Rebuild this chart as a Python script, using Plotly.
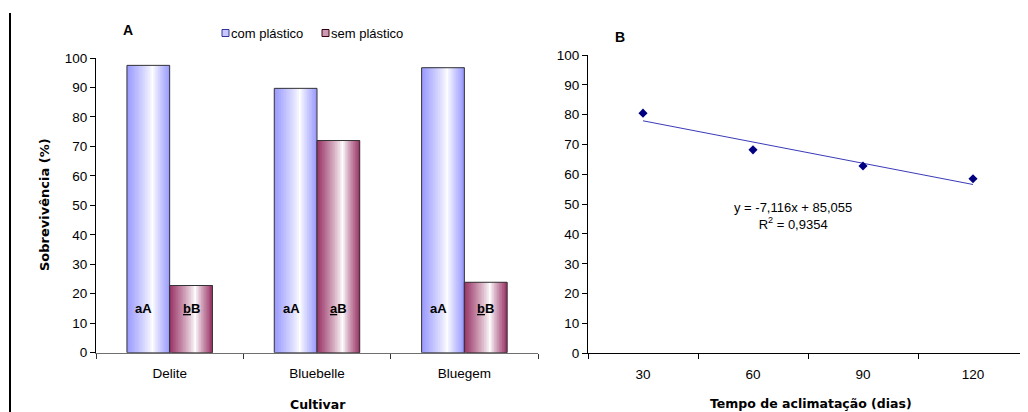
import plotly.graph_objects as go

# ---------------- data ----------------
cultivars = ["Delite", "Bluebelle", "Bluegem"]
com_plastico = [97.5, 89.7, 96.7]
sem_plastico = [22.8, 72.0, 23.9]
series_names = ["com plástico", "sem plástico"]
labels_com = ["aA", "aA", "aA"]
labels_sem = ["<u>b</u>B", "<u>a</u>B", "<u>b</u>B"]
label_height = 15

dias = ["30", "60", "90", "120"]
sobrevivencia_dias = [80.5, 68.2, 62.8, 58.5]
slope, intercept = -7.116, 85.055
equation_text = "y = -7,116x + 85,055<br>R<sup>2</sup> = 0,9354"

# the page body has an 8px default margin, so the figure is drawn 8px in
OFF = 8
W, H = 1028 - OFF, 412 - OFF
FONT = "Liberation Sans, Arial, sans-serif"
BOLD = "DejaVu Sans, Arial, sans-serif"


def px(x):
    return (x - OFF) / W


def py(y):
    return 1 - (y - OFF) / H


def mix(c1, c2, s):
    a = [int(c1[i:i + 2], 16) for i in (1, 3, 5)]
    b = [int(c2[i:i + 2], 16) for i in (1, 3, 5)]
    r = [round(a[j] * s + b[j] * (1 - s)) for j in range(3)]
    return "rgb(%d,%d,%d)" % tuple(r)


fig = go.Figure()

# ---------- Panel A : gradient bars ----------
BAR_W = 0.29
N = 26
series = [
    (com_plastico, "#9999FF", -BAR_W),
    (sem_plastico, "#993366", 0.0),
]
for vals, base, off0 in series:
    for k in range(N):
        t = (k + 0.5) / N
        tp = 0.6
        s = (tp - t) / tp if t < tp else (t - tp) / (1 - tp)
        s = s ** 0.85
        fig.add_trace(go.Bar(
            x=cultivars, y=vals,
            width=[BAR_W - k * BAR_W / N] * len(cultivars),
            offset=off0 + k * BAR_W / N,
            marker=dict(color=mix(base, "#FFFFFF", s), line=dict(width=0)),
            showlegend=False, hoverinfo="skip",
            xaxis="x", yaxis="y",
        ))
    fig.add_trace(go.Bar(
        x=cultivars, y=vals,
        width=[BAR_W] * len(cultivars), offset=off0,
        marker=dict(color="rgba(0,0,0,0)", line=dict(color="#333333", width=1)),
        showlegend=False, xaxis="x", yaxis="y",
    ))

# bar letters
for i, c in enumerate(cultivars):
    fig.add_annotation(x=i - BAR_W / 2 - 0.03, y=label_height, xref="x", yref="y",
                       text="<b>%s</b>" % labels_com[i], showarrow=False,
                       xanchor="center", yanchor="middle",
                       font=dict(family=FONT, size=13, color="#000"))
    fig.add_annotation(x=i + BAR_W / 2, y=label_height, xref="x", yref="y",
                       text="<b>%s</b>" % labels_sem[i], showarrow=False,
                       xanchor="center", yanchor="middle",
                       font=dict(family=FONT, size=13, color="#000"))

# ---------- Panel B ----------
fig.add_trace(go.Scatter(
    x=[dias[0], dias[-1]],
    y=[slope * 1 + intercept, slope * len(dias) + intercept],
    mode="lines", line=dict(color="#3a3ab8", width=1),
    showlegend=False, xaxis="x2", yaxis="y2",
))
fig.add_trace(go.Scatter(
    x=dias, y=sobrevivencia_dias, mode="markers",
    marker=dict(symbol="diamond", size=7, color="#000080"),
    showlegend=False, xaxis="x2", yaxis="y2",
))

tickfont = dict(family=FONT, size=13.5, color="#000")
fig.update_layout(
    width=W, height=H,
    margin=dict(l=0, r=0, t=0, b=0, autoexpand=False),
    paper_bgcolor="white", plot_bgcolor="white",
    barmode="overlay", showlegend=False,
    xaxis=dict(domain=[px(96), px(538)], type="category", range=[-0.5, 2.5],
               categoryorder="array", categoryarray=cultivars,
               showline=True, linecolor="#707070", linewidth=1,
               ticks="outside", tickson="boundaries", ticklen=5, tickcolor="#333",
               tickfont=tickfont, ticklabelstandoff=8, showgrid=False, zeroline=False,
               automargin=False),
    yaxis=dict(domain=[py(352.7), py(58)], range=[0, 100], dtick=10,
               showline=True, linecolor="#000", linewidth=1,
               ticks="outside", ticklen=5, tickcolor="#000",
               tickfont=tickfont, showgrid=False, zeroline=False, automargin=False),
    xaxis2=dict(domain=[px(588), 1.0], type="category", range=[-0.5, 3.5],
                categoryorder="array", categoryarray=dias,
                showline=True, linecolor="#000", linewidth=1,
                ticks="outside", tickson="boundaries", ticklen=5, tickcolor="#000",
                tickfont=tickfont, ticklabelstandoff=8, showgrid=False, zeroline=False,
                anchor="y2", automargin=False),
    yaxis2=dict(domain=[py(353.3), py(55)], range=[0, 100], dtick=10,
                showline=True, linecolor="#000", linewidth=1,
                ticks="outside", ticklen=5, tickcolor="#000",
                tickfont=tickfont, showgrid=False, zeroline=False,
                anchor="x2", automargin=False),
)

# texts
ann = [
    dict(x=px(128), y=py(30), text="<b>A</b>", size=14, fam=FONT),
    dict(x=px(620), y=py(37.5), text="<b>B</b>", size=14, fam=FONT),
    dict(x=px(318), y=py(404), text="<b>Cultivar</b>", size=12.5, fam=BOLD),
    dict(x=px(811), y=py(403), text="<b>Tempo de aclimatação (dias)</b>", size=12.5, fam=BOLD),
]
for a in ann:
    fig.add_annotation(x=a["x"], y=a["y"], xref="paper", yref="paper", text=a["text"],
                       showarrow=False, xanchor="center", yanchor="middle",
                       font=dict(family=a["fam"], size=a["size"], color="#000"))
fig.add_annotation(x=px(44), y=py(205), xref="paper", yref="paper",
                   text="<b>Sobrevivência (%)</b>", textangle=-90, showarrow=False,
                   xanchor="center", yanchor="middle",
                   font=dict(family=BOLD, size=13, color="#000"))
fig.add_annotation(x=px(793), y=py(216), xref="paper", yref="paper",
                   text=equation_text, showarrow=False,
                   xanchor="center", yanchor="middle",
                   font=dict(family=FONT, size=13, color="#000"))

# custom legend
leg = [(series_names[0], "#C8C8FF", "#333399", 222, 229),
       (series_names[1], "#CC99B0", "#330011", 322, 329)]
for name, fill, edge, sx, tx in leg:
    fig.add_shape(type="rect", xref="paper", yref="paper",
                  x0=px(sx), x1=px(sx + 7), y0=py(36.5), y1=py(29.5),
                  fillcolor=fill, line=dict(color=edge, width=1))
    fig.add_annotation(x=px(tx), y=py(33), xref="paper", yref="paper", text=name,
                       xanchor="left", yanchor="middle", showarrow=False,
                       font=dict(family=FONT, size=13, color="#000"))

# left frame line
fig.add_shape(type="line", xref="paper", yref="paper",
              x0=px(10), x1=px(10), y0=py(13), y1=0,
              line=dict(color="#000", width=2))

fig.write_html("out.html")
